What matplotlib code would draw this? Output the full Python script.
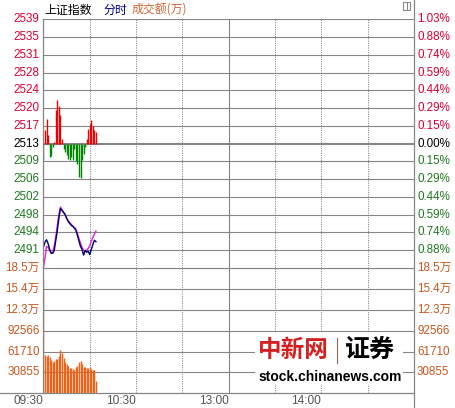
import matplotlib
matplotlib.use("Agg")
import matplotlib.pyplot as plt
from matplotlib.patches import Rectangle
from matplotlib.lines import Line2D

W, H = 455, 408

# ---------------- data ----------------
minutes = list(range(35))  # minutes since 09:30
price = [2491.9, 2492.9, 2493.4, 2492.6, 2491.4, 2490.6, 2490.6, 2491.2, 2493.3, 2495.4,
         2497.9, 2499.9, 2499.5, 2499.1, 2498.7, 2497.9, 2497.2, 2496.8, 2496.4, 2496.2,
         2495.8, 2495.4, 2494.3, 2493.1, 2492.0, 2491.4, 2490.2, 2491.2, 2490.8, 2491.0,
         2490.3, 2491.4, 2492.4, 2493.3, 2493.0]
avg_price = [2487.6, 2489.7, 2492.0, 2491.8, 2491.2, 2490.6, 2490.8, 2492.2, 2494.1, 2496.4,
             2498.7, 2500.2, 2499.7, 2499.1, 2498.5, 2497.9, 2497.4, 2497.0, 2496.6, 2496.2,
             2496.0, 2495.6, 2494.7, 2493.7, 2492.7, 2491.8, 2491.2, 2491.0, 2491.2, 2491.6,
             2492.2, 2493.1, 2493.9, 2494.6, 2495.2]
strength = [-3.3, 2.9, 5.2, 1.7, -2.7, -2.5, -0.8, 0.4, 6.9, 9.0,
            7.9, 6.0, 1.0, -1.2, -1.7, -2.3, -3.1, -3.5, -2.7, -3.3,
            -1.2, -3.7, -4.2, -6.9, -7.1, -3.5, -2.1, -0.8, 1.0, 3.1,
            4.0, 5.0, 3.7, 2.9, 2.5]
volume = [167500, 57300, 54800, 56300, 53300, 49700, 46700, 47500, 50000, 50400,
          55500, 63600, 59200, 51900, 46000, 43000, 40100, 37900, 36700, 35700,
          35000, 38200, 40800, 46000, 47900, 43000, 38200, 39100, 37200, 37900,
          38200, 36400, 34200, 35000, 18500]

prev_close = 2513.4
price_step = 3.697
price_labels = ["2539", "2535", "2531", "2528", "2524", "2520", "2517", "2513",
                "2509", "2506", "2502", "2498", "2494", "2491"]
pct_labels = ["1.03%", "0.88%", "0.74%", "0.59%", "0.44%", "0.29%", "0.15%", "0.00%",
              "0.15%", "0.29%", "0.44%", "0.59%", "0.74%", "0.88%"]
vol_max = 185130
vol_labels = ["18.5万", "15.4万", "12.3万", "92566", "61710", "30855"]
time_labels = ["09:30", "10:30", "13:00", "14:00"]
time_label_pos = [0, 60, 120, 180]
vgrid_dotted = [30, 60, 90, 150, 180, 210]
vgrid_solid = [120]

# ---------------- style ----------------
RED = "#dd0033"
GREEN = "#1f7a1f"
ORANGE = "#c8561e"
GRID = "#858585"
FONT = ["Liberation Sans", "Noto Sans CJK SC", "DejaVu Sans"]
CJK = ["Noto Sans CJK SC", "DejaVu Sans"]
plt.rcParams["font.family"] = FONT

fig = plt.figure(figsize=(W / 100, H / 100), dpi=100)
fig.patch.set_facecolor("white")

def fx(x):
    return x / W

def fy(y):
    return 1 - y / H

L, R = 43, 414
TOP, MID, BOT = 19.3, 268.0, 393.3

axp = fig.add_axes([fx(L), fy(MID), fx(R) - fx(L), fy(TOP) - fy(MID)])
axv = fig.add_axes([fx(L), fy(BOT), fx(R) - fx(L), fy(MID) - fy(BOT)])
for ax in (axp, axv):
    ax.set_xlim(-0.3, 240)
    ax.axis("off")
    ax.patch.set_alpha(0)

lo = prev_close - 7 * price_step
hi = prev_close + 7 * price_step
axp.set_ylim(lo, hi)
axv.set_ylim(0, vol_max)

# horizontal grid
for k in range(1, 15):
    lv = hi - k * price_step
    lw = 1.5 if k == 7 else 0.8
    axp.axhline(lv, color=GRID, lw=lw, zorder=1)
axp.axhline(hi, color=GRID, lw=0.8, zorder=1)
for k in range(1, 6):
    axv.axhline(vol_max * k / 6, color=GRID, lw=0.8, zorder=1)
axv.axhline(vol_max, color=GRID, lw=1.6, zorder=1)

# vertical grid
for ax in (axp, axv):
    for m in vgrid_dotted:
        ax.axvline(m, color=GRID, lw=0.75, ls=(0, (1, 1.2)), zorder=1)
    for m in vgrid_solid:
        ax.axvline(m, color=GRID, lw=0.8, zorder=1)

# frame lines
fig.add_artist(Line2D([fx(L), fx(L)], [fy(TOP), fy(BOT)], color=GRID, lw=0.9))
fig.add_artist(Line2D([fx(R), fx(R)], [fy(0), fy(H)], color=GRID, lw=0.9))
fig.add_artist(Line2D([fx(0), fx(R)], [fy(BOT), fy(BOT)], color=GRID, lw=0.9))

# strength bars
for m, s in zip(minutes, strength):
    axp.vlines(m, prev_close, prev_close + s, color="#ee0000" if s > 0 else "#008800",
               lw=1.0, zorder=3)

# price & average lines
axp.plot(minutes, avg_price, color="#e020e0", lw=1.0, zorder=4, clip_on=False)
axp.plot(minutes, price, color="#000066", lw=1.0, zorder=5)

# volume bars
axv.vlines(minutes, 0, volume, color="#ee6118", lw=1.05, zorder=3)

# tick labels
ys = [TOP + k * (MID - TOP) / 14 for k in range(14)]
for k, (lab, pl) in enumerate(zip(price_labels, pct_labels)):
    c = RED if k < 7 else ("black" if k == 7 else GREEN)
    fig.text(fx(39.5), fy(ys[k]), lab, ha="right", va="center", fontsize=8.4, color=c)
    fig.text(fx(417), fy(ys[k]), pl, ha="left", va="center", fontsize=8.4, color=c)
for k, lab in enumerate(vol_labels):
    y = MID + k * (BOT - MID) / 6
    fig.text(fx(39.5), fy(y), lab, ha="right", va="center", fontsize=8.4, color=ORANGE)
    fig.text(fx(417), fy(y), lab, ha="left", va="center", fontsize=8.4, color=ORANGE)

for lab, m in zip(time_labels, time_label_pos):
    x = L + m * (R - L) / 240
    fig.text(fx(x), fy(401), lab, ha="right", va="center", fontsize=8.6, color="#555555")

# title
fig.text(fx(44), fy(10), "上证指数", ha="left", va="center", fontsize=8.6, color="black",
         family=CJK)
fig.text(fx(104), fy(10), "分时", ha="left", va="center", fontsize=8.6, color="#000080",
         family=CJK)
fig.text(fx(132), fy(10), "成交额(万)", ha="left", va="center", fontsize=8.6, color="#cc6633",
         family=CJK)

# top-right icon
fig.add_artist(Rectangle((fx(403), fy(10)), fx(7), 8 / H, fill=False, ec="#888888", lw=0.8))
fig.add_artist(Line2D([fx(407), fx(407)], [fy(2), fy(10)], color="#888888", lw=0.8))

# watermark
fig.add_artist(Rectangle((fx(255), fy(385)), fx(148), 52 / H, fc="white", ec="none", zorder=6))
fig.text(fx(258), fy(350), "中新网", ha="left", va="center", fontsize=17, color="#d42020",
         family=CJK, weight="bold", zorder=7)
fig.add_artist(Line2D([fx(337), fx(337)], [fy(338), fy(363)], color="#8a6a5a", lw=0.8, zorder=7))
fig.text(fx(345), fy(350), "证券", ha="left", va="center", fontsize=18, color="black",
         family=CJK, weight="bold", zorder=7)
fig.text(fx(330), fy(377), "stock.chinanews.com", ha="center", va="center", fontsize=10,
         color="black", weight="bold", zorder=7)

fig.savefig("out.png", dpi=100, facecolor="white")
